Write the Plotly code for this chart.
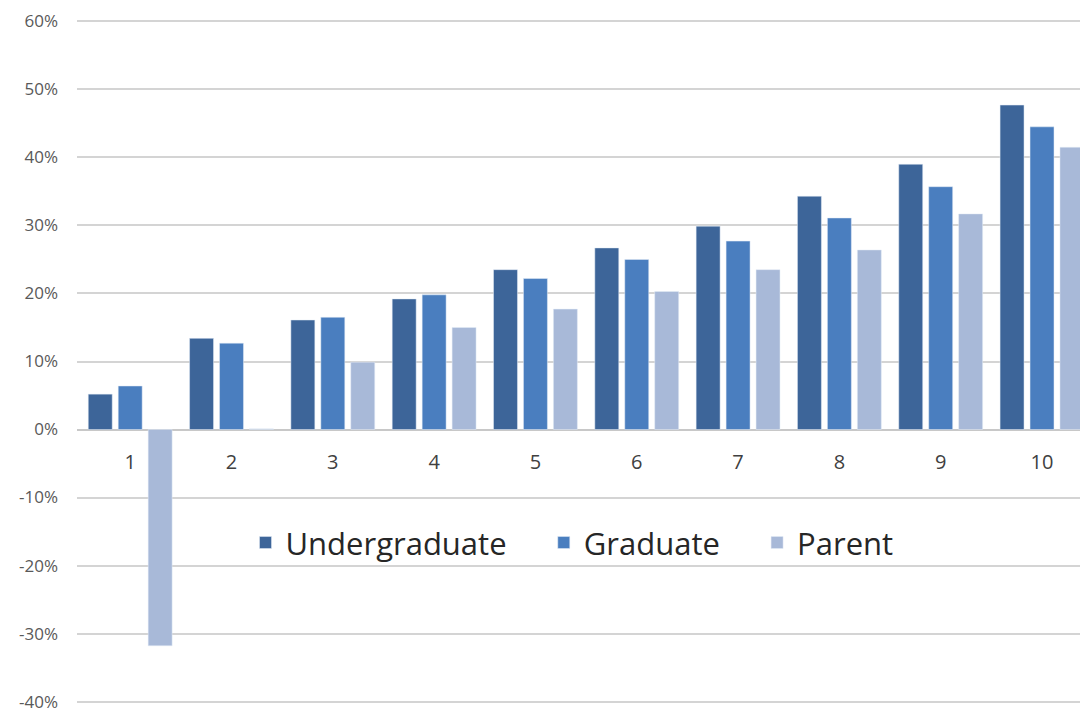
import plotly.graph_objects as go

categories = ["1", "2", "3", "4", "5", "6", "7", "8", "9", "10"]
undergraduate = [5.2, 13.4, 16.1, 19.2, 23.5, 26.7, 29.9, 34.3, 39.0, 47.7]
graduate = [6.4, 12.7, 16.5, 19.8, 22.2, 25.0, 27.7, 31.1, 35.7, 44.5]
parent = [-31.8, 0.1, 9.9, 15.0, 17.7, 20.3, 23.5, 26.4, 31.7, 41.5]
y_ticks = [-40, -30, -20, -10, 0, 10, 20, 30, 40, 50, 60]
y_tick_labels = [f"{v}%" for v in y_ticks]
series_names = ["Undergraduate", "Graduate", "Parent"]

x_pos = list(range(1, len(categories) + 1))
pad = "\u00a0" * 4

fig = go.Figure()
fig.add_trace(go.Bar(name=series_names[0] + pad, x=x_pos, y=undergraduate, marker_color="#3d6599"))
fig.add_trace(go.Bar(name=series_names[1] + pad, x=x_pos, y=graduate, marker_color="#4a7ebf"))
fig.add_trace(go.Bar(name=series_names[2], x=x_pos, y=parent, marker_color="#a8b9d8"))

fig.update_layout(
    width=1080, height=713,
    margin=dict(l=77, r=0, t=18, b=8, autoexpand=False),
    paper_bgcolor="white", plot_bgcolor="white",
    barmode="group", bargap=0.113, bargroupgap=0.2,
    font=dict(family="Open Sans, sans-serif", color="#595959"),
    showlegend=True,
    legend=dict(
        orientation="h", x=0.168, y=0.236, xanchor="left", yanchor="middle",
        font=dict(size=31, color="#262626"), bgcolor="rgba(0,0,0,0)",
        tracegroupgap=0,
    ),
    xaxis=dict(
        range=[0.475, 10.375], tickvals=x_pos, ticktext=categories,
        anchor="free", position=0.401, showgrid=False, zeroline=False,
        showline=False, ticks="outside", ticklen=14, tickcolor="rgba(0,0,0,0)",
        tickfont=dict(size=20, color="#404040"), automargin=False,
    ),
    yaxis=dict(
        range=[-40.5, 60.5], tickvals=y_ticks, ticktext=y_tick_labels,
        showgrid=True, gridcolor="#d4d4d4", gridwidth=1.5,
        zeroline=True, zerolinecolor="#c8c8c8", zerolinewidth=1.5,
        ticks="", ticklabelstandoff=18, ticklabeloverflow="allow",
        tickfont=dict(size=17, color="#595959"), automargin=False,
    ),
)

fig.write_html("out.html")
